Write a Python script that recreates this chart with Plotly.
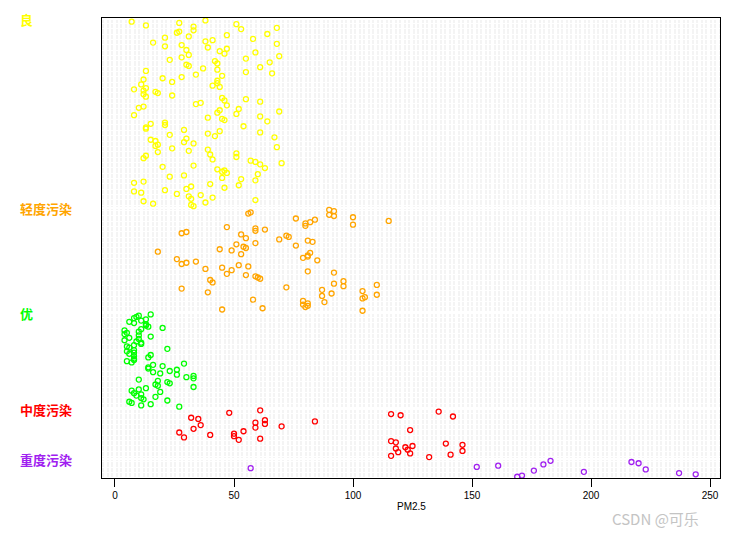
import plotly.graph_objects as go

# groups from top to bottom, as they appear in the chart
groups = ["良", "轻度污染", "优", "中度污染", "重度污染"]
colors = ["#FFFF00", "#FFA500", "#00FF00", "#FF0000", "#A020F0"]

# PM2.5 values of each group, read top row first
liang = [38, 7, 27, 51, 13, 33, 68, 53, 33, 27, 26, 64, 47, 31, 21, 58, 41, 38, 16, 68,
         28, 21, 39, 47, 30, 44, 59, 46, 31, 69, 28, 55, 23, 42, 65, 43, 30, 31, 61, 37,
         43, 13, 55, 66, 34, 45, 28, 20, 12, 43,
         24, 43, 11, 41, 44, 13, 8, 12, 17, 18, 12, 24, 13, 45, 55, 46, 61, 36, 34, 47,
         12, 10, 52, 44, 69, 43, 51, 8, 61, 39, 45, 46, 64, 21, 15, 21, 54, 13, 13, 29,
         44, 61, 39, 23, 42, 67, 30, 15, 17, 29, 33,
         18, 17, 68, 24, 39, 31, 18, 51, 40, 13, 51, 12, 41, 57, 59, 70, 61, 33, 20, 63,
         43, 46, 45, 47, 60, 29, 23, 45, 53, 59, 12, 8, 40, 52, 32, 46, 30, 21, 8, 11,
         26, 36, 31, 41, 32, 59, 12, 38, 16, 32, 33]
qingdu = [90, 92, 57, 56, 90, 92, 100, 76, 84, 115, 82, 80, 100, 80, 47, 59, 63, 59, 30, 28,
          53, 72, 73, 55, 69, 81, 83, 59, 51, 76, 54, 55, 44, 49, 18, 82, 53, 81, 81, 79,
          26, 85, 34, 30, 28, 52, 56, 45, 38, 49, 81, 92, 47, 55, 59, 60, 61, 40, 96, 41,
          92, 110, 96, 72, 28, 87, 104, 39, 91, 110, 87, 105, 104, 58, 79, 88, 81, 79, 81, 80,
          62, 45, 104]
you = [15, 10, 9, 8, 13, 11, 6, 8, 13, 13, 14, 20, 11, 4, 10, 5, 4, 10, 15, 6,
       10, 4, 9, 11, 11, 8, 5, 6, 22, 8, 5, 8, 6, 15, 8, 14, 8, 8, 5, 7,
       29, 16, 20, 14, 14, 26, 23, 16, 19, 26, 33, 30, 33, 10, 18, 22, 23, 17, 18, 33,
       13, 10, 7, 19, 8, 11, 9, 17, 11, 12, 22, 6, 7, 15, 11, 27]
zhongdu = [61, 136, 48, 116, 120, 142, 32, 35, 63, 84, 59, 63, 36, 70, 59, 33, 124, 54, 27, 50,
           40, 50, 29, 61, 52, 116, 118, 139, 146, 125, 122, 118, 123, 146, 119, 124, 141, 116, 132]
zhongdu_heavy = [183, 217, 220, 180, 161, 152, 57, 223, 176, 197, 237, 244, 171, 169]

values = [liang, qingdu, you, zhongdu, zhongdu_heavy]

fig = go.Figure()

# dotchart layout: bottom group first, one row per value, 2 empty rows between groups
row = 0
all_rows = []
label_pos = {}
for name, col, vals in reversed(list(zip(groups, colors, values))):
    ys = list(range(row + 1, row + len(vals) + 1))
    fig.add_trace(go.Scatter(
        x=vals[::-1], y=ys, mode="markers", name=name, showlegend=False,
        marker=dict(symbol="circle-open", size=5, color=col, line=dict(width=1.3)),
    ))
    all_rows += ys
    label_pos[name] = row + len(vals) + 1
    row += len(vals) + 2

for name, col in zip(groups, colors):
    fig.add_annotation(
        x=-0.136, xref="paper", xanchor="left", y=label_pos[name], yref="y",
        text="<b>" + name + "</b>", showarrow=False,
        font=dict(family="Noto Sans CJK SC", size=13, color=col),
    )

fig.add_annotation(x=0.5, xref="paper", y=-0.063, yref="paper", yanchor="middle",
                   text="PM2.5", showarrow=False, font=dict(size=10, color="black"))
fig.add_annotation(x=0.97, xref="paper", xanchor="right", y=-0.087, yref="paper",
                   yanchor="middle", text="CSDN @可乐", showarrow=False,
                   font=dict(family="Noto Sans CJK SC", size=15, color="#C4C4C4"))

# page body has an 8px margin, so the figure is shrunk by 8px and the margins shifted
fig.update_layout(
    width=731, height=527,
    margin=dict(l=94, r=19, t=10, b=57),
    plot_bgcolor="white", paper_bgcolor="white",
    font=dict(family="Liberation Sans, Arial", size=10, color="black"),
)
fig.update_xaxes(
    range=[-5.46, 254.2], tickvals=[0, 50, 100, 150, 200, 250],
    ticks="outside", ticklen=8, tickcolor="black",
    showline=True, linecolor="black", linewidth=1, mirror=True,
    showgrid=False, zeroline=False,
)
fig.update_yaxes(
    range=[0, row], tickvals=all_rows, showticklabels=False, ticks="",
    showgrid=True, gridcolor="#F4F4F4", gridwidth=1, griddash="2px,2.5px",
    showline=True, linecolor="black", linewidth=1, mirror=True, zeroline=False,
)

fig.write_html("out.html")
